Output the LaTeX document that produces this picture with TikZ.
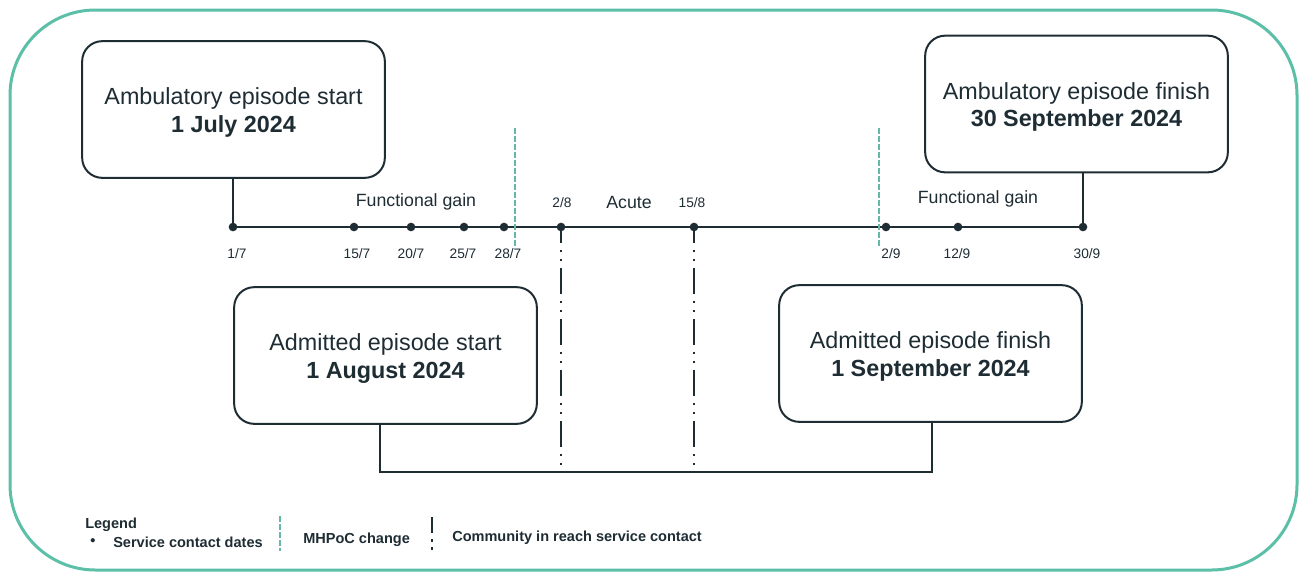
\documentclass[tikz,border=0pt]{standalone}
\usepackage{fontspec}
\setmainfont{Liberation Sans}
\definecolor{inkc}{RGB}{30,44,52}
\definecolor{framec}{RGB}{92,191,168}
\definecolor{teald}{RGB}{104,182,165}
\begin{document}
\begin{tikzpicture}[x=0.75pt,y=-0.75pt,
  ink/.style={draw=inkc, line width=1.5pt},
  box/.style={draw=inkc, line width=1.5pt, rounded corners=15pt, minimum width=227pt, minimum height=102.5pt, inner sep=0pt},
  boxtext/.style={align=center, font=\fontsize{17.5}{20.8}\selectfont, text=inkc, inner sep=0pt, yshift=-2.3pt},
  dot/.style={circle, fill=inkc, inner sep=0pt, minimum size=6.5pt},
  datelab/.style={font=\fontsize{10.3}{12}\selectfont, text=inkc, inner sep=0pt},
  phase/.style={font=\fontsize{13.3}{15}\selectfont, text=inkc, inner sep=0pt},
  mhpoc/.style={draw=teald, line width=1.8pt, dash pattern=on 4.5pt off 1.5pt},
  cirs/.style={draw=inkc, line width=1.5pt, dash pattern=on 19.2pt off 5.25pt on 1.5pt off 5.6pt on 1.5pt off 5.25pt, dash phase=7.5pt},
  leg/.style={font=\bfseries\fontsize{10.9}{13}\selectfont, text=inkc, anchor=west, inner sep=0pt}]
\useasboundingbox (0,0) rectangle (1299,572);
% outer frame
\draw[framec, line width=2.25pt, rounded corners=64pt] (10,10) rectangle (1297,570);
% boxes
\node[box, label={[boxtext, name=t1]center:{Ambulatory episode start\\\textbf{1 July 2024}}}] (b1) at (233.5,109.5) {};
\node[box, label={[boxtext, name=t2]center:{Ambulatory episode finish\\\textbf{30 September 2024}}}] (b2) at (1076.5,104) {};
\node[box, label={[boxtext, name=t3]center:{Admitted episode start\\\textbf{1 August 2024}}}] (b3) at (385.5,355.5) {};
\node[box, label={[boxtext, name=t4]center:{Admitted episode finish\\\textbf{1 September 2024}}}] (b4) at (930.5,353.5) {};
% timeline dots
\node[dot] (d1) at (233,227) {};
\node[dot] (d15) at (354,227) {};
\node[dot] (d20) at (411,227) {};
\node[dot] (d25) at (464,227) {};
\node[dot] (d28) at (504,227) {};
\node[dot] (a2) at (561,227) {};
\node[dot] (a15) at (694,227) {};
\node[dot] (s2) at (886,227) {};
\node[dot] (s12) at (958,227) {};
\node[dot] (s30) at (1083,227) {};
% timeline
\draw[ink] (d1.center) -- (s30.center);
\draw[ink] (b1.south -| d1) -- (d1.center);
\draw[ink] (b2.south -| s30) -- (s30.center);
% bottom connector
\coordinate (c1) at (380,472);
\coordinate (c2) at (932,472);
\draw[ink] (b3.south -| c1) -- (c1) -- (c2) -- (b4.south -| c2);
% community in reach lines
\draw[cirs] (a2.center) -- (a2 |- c1);
\draw[cirs] (a15.center) -- (a15 |- c1);
% MHPoC change lines
\coordinate (m1t) at (515,128);
\coordinate (m1b) at (515,246);
\coordinate (m2t) at (879,128);
\coordinate (m2b) at (879,247);
\draw[mhpoc] (m1t) -- (m1b);
\draw[mhpoc] (m2t) -- (m2b);
% date labels
\node[datelab] (l1) at (237,254) {1/7};
\node[datelab] (l15) at (357,254) {15/7};
\node[datelab] (l20) at (411,254) {20/7};
\node[datelab] (l25) at (463,254) {25/7};
\node[datelab] (l28) at (508,254) {28/7};
\node[datelab] (l2s) at (891,254) {2/9};
\node[datelab] (l12) at (957,254) {12/9};
\node[datelab] (l30) at (1087,254) {30/9};
\node[datelab] (l2a) at (562,203) {2/8};
\node[datelab] (l15a) at (692,203) {15/8};
% phase labels
\node[phase] (p1) at (416,202) {Functional gain};
\node[phase] (p2) at (629,202) {Acute};
\node[phase] (p3) at (978,199) {Functional gain};
% legend
\node[leg] (lg) at (85,525) {Legend};
\node[leg] (lb) at (90,542) {\textbullet};
\node[leg] (ls) at (113,542) {Service contact dates};
\coordinate (l1t) at (280,516);
\coordinate (l1b) at (280,551);
\draw[mhpoc] (l1t) -- (l1b);
\node[leg] (lm) at (303,540) {MHPoC change};
\coordinate (l2t) at (432,517);
\coordinate (l2b) at (432,533);
\draw[ink] (l2t) -- (l2b);
\coordinate (l3t) at (432,539);
\coordinate (l3b) at (432,541.5);
\draw[ink] (l3t) -- (l3b);
\coordinate (l4t) at (432,547);
\coordinate (l4b) at (432,549.5);
\draw[ink] (l4t) -- (l4b);
\node[leg] (lc) at (452,538) {Community in reach service contact};
\end{tikzpicture}
\end{document}
